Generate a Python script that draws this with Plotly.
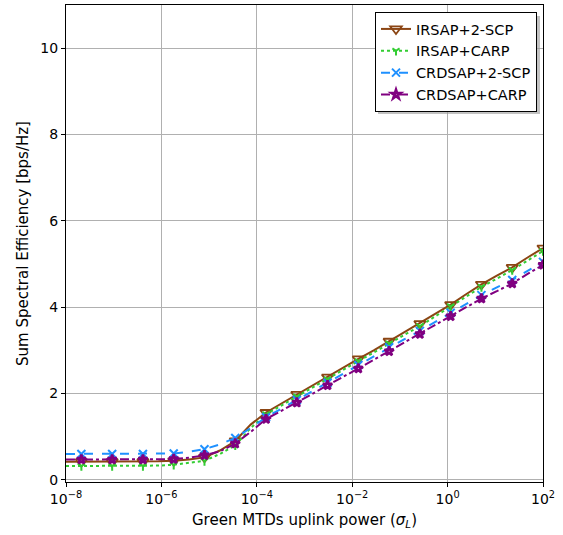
import numpy as np
import plotly.graph_objects as go

# x data: 32 log-spaced points from 1e-8 to 1e2 (markers on every other point)
x_exp_start = -8
x_exp_end = 2
n_points = 32
x_vals = list(np.logspace(x_exp_start, x_exp_end, n_points))

irsap_2scp = [0.42, 0.42, 0.42, 0.42, 0.42, 0.42, 0.43, 0.44, 0.47, 0.52, 0.68, 0.90,
              1.28, 1.56, 1.77, 1.98, 2.18, 2.38, 2.59, 2.80, 3.00, 3.21, 3.41, 3.62,
              3.84, 4.06, 4.30, 4.53, 4.73, 4.92, 5.15, 5.37]
irsap_carp = [0.32, 0.32, 0.32, 0.32, 0.32, 0.32, 0.33, 0.35, 0.39, 0.44, 0.60, 0.80,
              1.20, 1.52, 1.72, 1.93, 2.13, 2.33, 2.54, 2.75, 2.95, 3.16, 3.36, 3.56,
              3.79, 4.02, 4.25, 4.47, 4.66, 4.86, 5.08, 5.30]
crdsap_2scp = [0.60, 0.60, 0.60, 0.60, 0.60, 0.60, 0.60, 0.61, 0.65, 0.71, 0.82, 0.97,
               1.20, 1.45, 1.65, 1.85, 2.05, 2.25, 2.45, 2.66, 2.86, 3.07, 3.26, 3.45,
               3.66, 3.87, 4.08, 4.28, 4.46, 4.63, 4.84, 5.05]
crdsap_carp = [0.47, 0.47, 0.47, 0.47, 0.47, 0.47, 0.47, 0.48, 0.51, 0.57, 0.66, 0.84,
               1.11, 1.41, 1.60, 1.79, 1.99, 2.19, 2.38, 2.58, 2.78, 2.98, 3.18, 3.38,
               3.58, 3.79, 4.00, 4.20, 4.37, 4.55, 4.77, 4.98]

series_names = ["IRSAP+2-SCP", "IRSAP+CARP", "CRDSAP+2-SCP", "CRDSAP+CARP"]
x_tick_vals = [1e-8, 1e-6, 1e-4, 1e-2, 1e0, 1e2]
x_tick_text = ["10<sup>−8</sup>", "10<sup>−6</sup>", "10<sup>−4</sup>",
               "10<sup>−2</sup>", "10<sup>0</sup>", "10<sup>2</sup>"]
y_tick_vals = [0, 2, 4, 6, 8, 10]

styles = [
    dict(color="#8B4513", dash="solid", symbol="triangle-down-open", size=10, mlw=1.8),
    dict(color="#32CD32", dash="dot", symbol="y-down-open", size=6, mlw=2),
    dict(color="#1E90FF", dash="dash", symbol="x-thin-open", size=8, mlw=2),
    dict(color="#800080", dash="dashdot", symbol="star-open", size=7, mlw=2.5),
]

fig = go.Figure()
all_series = [irsap_2scp, irsap_carp, crdsap_2scp, crdsap_carp]
for name, ys, st in zip(series_names, all_series, styles):
    mk = dict(symbol=st["symbol"], size=st["size"], color=st["color"],
              line=dict(color=st["color"], width=st["mlw"]))
    ln = dict(color=st["color"], dash=st["dash"], width=2)
    # line through all points
    fig.add_trace(go.Scatter(x=x_vals, y=ys, mode="lines", name=name,
                             showlegend=False, line=ln))
    # markers on every other point (odd indices)
    fig.add_trace(go.Scatter(x=x_vals[1::2], y=ys[1::2], mode="markers", name=name,
                             showlegend=False, marker=mk))
    # legend entry
    fig.add_trace(go.Scatter(x=[None], y=[None], mode="lines+markers", name=name,
                             line=ln, marker=mk))

L, R, T, B = 66, 20, 5, 53
W, H = 563, 535
pw, ph = W - L - R, H - T - B

def px_to_paper(px, py):
    return (px - L) / pw, 1 - (py - T) / ph

# legend shadow
sx0, sy0 = px_to_paper(378, 16)
sx1, sy1 = px_to_paper(540, 114)
fig.add_shape(type="rect", xref="paper", yref="paper", x0=sx0, x1=sx1, y0=sy1, y1=sy0,
              fillcolor="#999999", line=dict(width=0), layer="above", opacity=0.6)

lx, ly = px_to_paper(537, 12)
fig.update_layout(
    width=W, height=H,
    margin=dict(l=L, r=R, t=T, b=B),
    paper_bgcolor="white", plot_bgcolor="white",
    font=dict(family="DejaVu Sans", size=14, color="black"),
    showlegend=True,
    legend=dict(x=lx, y=ly, xanchor="right", yanchor="top",
                bgcolor="white", bordercolor="black", borderwidth=1,
                font=dict(size=14.5), tracegroupgap=0, itemwidth=30),
    xaxis=dict(type="log", range=[x_exp_start, x_exp_end],
               tickvals=x_tick_vals, ticktext=x_tick_text,
               showgrid=True, gridcolor="#b0b0b0", gridwidth=1,
               showline=True, linecolor="black", linewidth=1, mirror=True,
               ticks="outside", ticklen=4, tickcolor="black",
               tickfont=dict(size=14),
               title=dict(text="Green MTDs uplink power (<i>σ</i><sub><i>L</i></sub>)",
                          font=dict(size=15), standoff=8),
               zeroline=False),
    yaxis=dict(range=[-0.05, 11], tickvals=y_tick_vals,
               showgrid=True, gridcolor="#b0b0b0", gridwidth=1,
               showline=True, linecolor="black", linewidth=1, mirror=True,
               ticks="outside", ticklen=4, tickcolor="black",
               tickfont=dict(size=14),
               title=dict(text="Sum Spectral Efficiency [bps/Hz]", font=dict(size=15), standoff=8),
               zeroline=False),
)

fig.write_html("out.html")
